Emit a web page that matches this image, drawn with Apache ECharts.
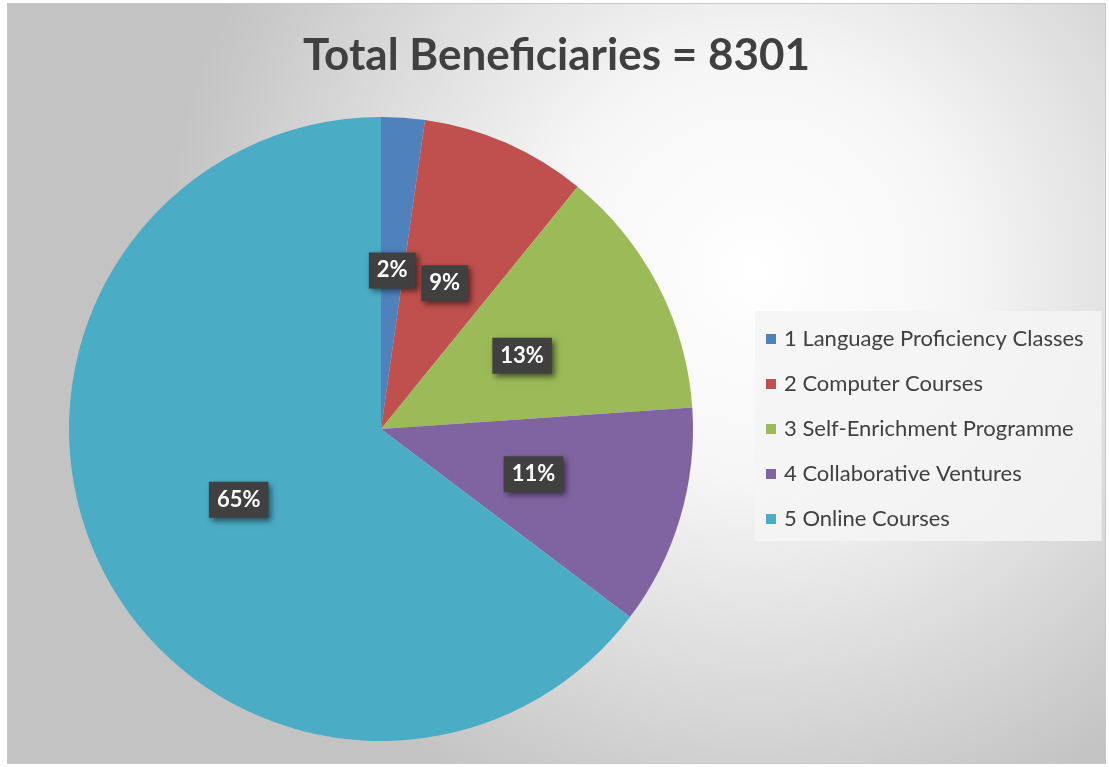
<!DOCTYPE html>
<html>
<head>
<meta charset="utf-8">
<script src="https://cdn.jsdelivr.net/npm/echarts@6/dist/echarts.min.js"></script>
<style>
  html, body { margin: 0; padding: 0; background: #fff; }
  #chart {
    position: absolute;
    left: 7px;
    top: 3px;
    width: 1097px;
    height: 759px;
    border: 1px solid #c8c8c8;
  }
</style>
</head>
<body>
<div id="chart"></div>
<script>
// data
const categories = [
  '1 Language Proficiency Classes',
  '2 Computer Courses',
  '3 Self-Enrichment Programme',
  '4 Collaborative Ventures',
  '5 Online Courses'
];
const beneficiaries = [187, 714, 1083, 946, 5371];
const colors = ['#4f81bd', '#c0504d', '#9bbb59', '#8064a2', '#4bacc6'];
const titleText = 'Total Beneficiaries = 8301';

const myChart = echarts.init(document.getElementById('chart'));

const option = {
  backgroundColor: {
    type: 'radial',
    x: 0.68,
    y: 0.35,
    r: 0.78,
    colorStops: [
      { offset: 0, color: '#ffffff' },
      { offset: 0.35, color: '#f6f6f6' },
      { offset: 1, color: '#c3c3c3' }
    ]
  },
  color: colors,
  title: {
    text: titleText,
    left: 'center',
    top: 25,
    textStyle: {
      fontFamily: 'Lato',
      fontWeight: 'bold',
      fontSize: 44,
      color: '#404040'
    }
  },
  legend: {
    orient: 'vertical',
    left: 747,
    top: 307,
    backgroundColor: 'rgba(245,245,245,0.85)',
    padding: [16, 18, 10, 11],
    itemWidth: 10,
    itemHeight: 10,
    itemGap: 21,
    icon: 'rect',
    textStyle: {
      fontFamily: 'Lato',
      fontSize: 22,
      color: '#404040',
      lineHeight: 24,
      padding: [0, 0, 0, 3]
    },
    data: categories
  },
  series: [{
    type: 'pie',
    center: [373, 425],
    radius: [0, 312],
    startAngle: 90,
    clockwise: true,
    silent: true,
    data: categories.map((name, i) => ({ name: name, value: beneficiaries[i] })),
    label: {
      position: 'inside',
      formatter: (p) => Math.round(p.percent) + '%',
      fontFamily: 'Lato',
      fontWeight: 'bold',
      fontSize: 22,
      color: '#ffffff',
      backgroundColor: '#404040',
      padding: [8, 8, 6, 8],
      shadowColor: 'rgba(0,0,0,0.55)',
      shadowBlur: 6,
      shadowOffsetX: 3,
      shadowOffsetY: 3
    },
    labelLine: { show: false }
  }]
};

myChart.setOption(option);
window.addEventListener('resize', () => myChart.resize());
</script>
</body>
</html>
